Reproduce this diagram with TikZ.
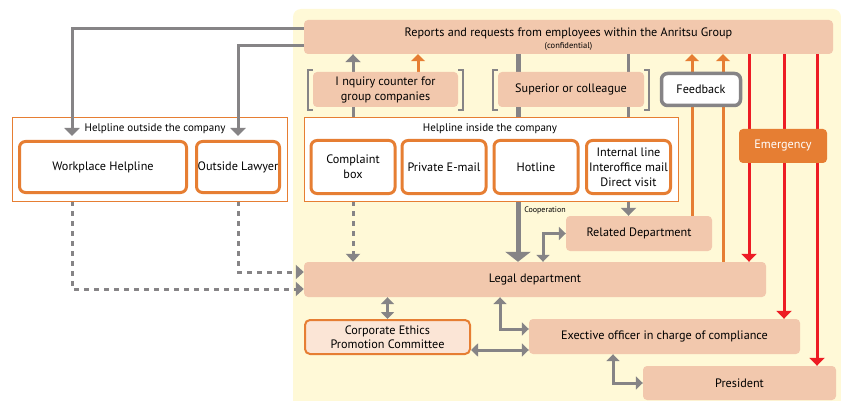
\documentclass[tikz,border=0pt]{standalone}
\usepackage{fontspec}
\setmainfont{PT Sans}
\usetikzlibrary{arrows.meta,positioning,calc,backgrounds}

\definecolor{peach}{HTML}{F2C8AD}
\definecolor{paleyel}{HTML}{FFF9D7}
\definecolor{orng}{HTML}{E67E33}
\definecolor{gry}{HTML}{868486}
\definecolor{redl}{HTML}{ED1C24}
\definecolor{pale}{HTML}{FBE5D6}

\pgfdeclarelayer{edges}
\pgfsetlayers{background,edges,main}

\tikzset{
  box/.style={fill=peach, rounded corners=4pt, inner sep=0pt, align=center, font=\fontsize{12.2}{15}\selectfont},
  chan/.style={draw=orng, line width=3pt, fill=white, rounded corners=6pt, inner sep=0pt, align=center, font=\fontsize{12.2}{14.8}\selectfont},
  helpframe/.style={draw=orng, line width=0.8pt, fill=white, inner sep=0pt},
  hdr/.style={font=\fontsize{11}{13}\selectfont, inner sep=0pt},
  gline/.style={draw=gry, line width=3pt},
  garrow/.style={gline, -{Triangle[width=15pt,length=8pt]}},
  gdbl/.style={gline, {Triangle[width=13pt,length=7pt]}-{Triangle[width=13pt,length=7pt]}},
  gdash/.style={gline, dash pattern=on 5pt off 5pt, -{Triangle[width=14pt,length=8pt]}},
  oarrow/.style={draw=orng, line width=3pt, -{Triangle[width=14pt,length=7pt]}},
  rarrow/.style={draw=redl, line width=3pt, -{Triangle[width=15pt,length=8pt]}},
  brk/.style={draw=gry, line width=2.5pt},
}

\begin{document}
\begin{tikzpicture}[x=1pt, y=-1pt]
\useasboundingbox (0,0) rectangle (841,401);
\begin{pgfonlayer}{background}
  \fill[paleyel, rounded corners=8pt] (293,420) -- (293,9) -- (841,9) -- (841,420);
\end{pgfonlayer}

% reports box
\node[box, minimum width=529pt, minimum height=34pt] (top) at (568.5,37)
  {\rule{0pt}{13pt}Reports and requests from employees within the Anritsu Group\\[-3pt]{\fontsize{8.5}{9}\selectfont (confidential)}};

% outside helpline
\node[helpframe, minimum width=275pt, minimum height=84pt] (outhelp) at (149.5,159) {};
\node[hdr] (outlbl) at (155,129) {Helpline outside the company};
\node[chan, minimum width=167pt, minimum height=51pt] (wph) at (103,167) {Workplace Helpline};
\node[chan, minimum width=83pt, minimum height=51pt] (law) at (238,167) {Outside Lawyer};

% inside helpline
\node[helpframe, minimum width=374pt, minimum height=84pt] (inhelp) at (491,159) {};
\node[hdr] (inlbl) at (490,129) {Helpline inside the company};
\foreach \n/\x/\t in {cmp/353/{Complaint\\box}, eml/444/{Private E-mail}, hot/536/{Hotline},
                      int/628.5/{Internal line\\Interoffice mail\\Direct visit}} {
  \node[chan, minimum width=84pt, minimum height=53pt] (\n) at (\x,167) {\t};
}

% upper row
\node[box, minimum width=145pt, minimum height=35pt] (inq) at (385.5,89.5) {I nquiry counter for\\group companies};
\node[box, minimum width=146pt, minimum height=35pt] (sup) at (571,89.5) {Superior or colleague};
\node[draw=gry, line width=3.5pt, fill=white, rounded corners=6pt, minimum width=79pt, minimum height=32pt,
      font=\fontsize{12.2}{14}\selectfont] (fb) at (701,89.5) {Feedback};
\node[box, fill=orng, text=white, minimum width=88pt, minimum height=34pt] (emg) at (783,146) {Emergency};
\foreach \n in {inq,sup} {
  \draw[brk] ([yshift=2pt]\n.north west) -- ++(-5,0) -- ++(0,40) -- ++(5,0);
  \draw[brk] ([yshift=2pt]\n.north east) -- ++(5,0) -- ++(0,40) -- ++(-5,0);
}

% lower part
\node[box, minimum width=146pt, minimum height=35pt] (rel) at (639,233.5) {Related Department};
\node[font=\fontsize{8}{9}\selectfont, inner sep=0pt] (coop) at (545,210) {Cooperation};
\node[box, minimum width=462pt, minimum height=35pt] (legal) at (535,279.5) {Legal department};
\node[draw=orng, line width=2pt, fill=pale, rounded corners=5pt, inner sep=0pt, align=center,
      minimum width=165pt, minimum height=34pt, font=\fontsize{12.2}{13.5}\selectfont] (eth) at (387.5,337)
  {Corporate Ethics\\Promotion Committee};
\node[box, minimum width=271pt, minimum height=35pt] (exec) at (664.5,336.5) {Exective officer in charge of compliance};
\node[box, minimum width=193pt, minimum height=34pt] (pres) at (739.5,383) {President};

% arrows into the outside helpline
\coordinate (wphin) at (72,136);
\draw[garrow] ([yshift=8pt]top.west) -| (wphin);
\draw[garrow] ([yshift=-9pt]top.west) -| ([yshift=4pt]law.north);

\begin{pgfonlayer}{edges}
\draw[garrow] (cmp.north |- inhelp.north) -- (cmp.north |- top.south);
\coordinate (inqup) at ([xshift=32.5pt]inq.north);
\draw[oarrow] (inqup) -- (inqup |- top.south);
\coordinate (cpx) at (518,0);
\draw[gline, line width=5pt, -{Triangle[width=25pt,length=10pt]}] (cpx |- top.south) -- (cpx |- legal.north);
\draw[garrow] (int.north |- top.south) -- (int.north |- rel.north);
\draw[gdbl] (rel.west) -| ([xshift=8pt]legal.north);
\draw[gdash] (wphin |- outhelp.south) |- ([yshift=-9.5pt]legal.west);
\draw[gdash] (law.south |- outhelp.south) |- ([yshift=7.5pt]legal.west);
\draw[gdash] (cmp.south |- inhelp.south) -- (cmp.south |- legal.north);
\draw[gdbl] (eth.north) -- (eth.north |- legal.south);
\draw[gdbl] ([xshift=-35pt]legal.south) |- ([yshift=7.5pt]exec.west);
\coordinate (ethr) at ([yshift=-13pt]eth.east);
\draw[gdbl] (ethr) -- (ethr -| exec.west);
\draw[gdbl] ([xshift=-51.5pt]exec.south) |- (pres.west);
\foreach \n/\dx in {rel/53, legal/188} {
  \coordinate (up) at ([xshift=\dx pt]\n.north);
  \draw[oarrow] (up) -- (up |- top.south);
}
\foreach \n/\dx in {legal/214, exec/119.5, pres/77.5} {
  \coordinate (dn) at ([xshift=\dx pt]\n.north);
  \draw[rarrow] (dn |- top.south) -- (dn);
}
\end{pgfonlayer}
\end{tikzpicture}
\end{document}
